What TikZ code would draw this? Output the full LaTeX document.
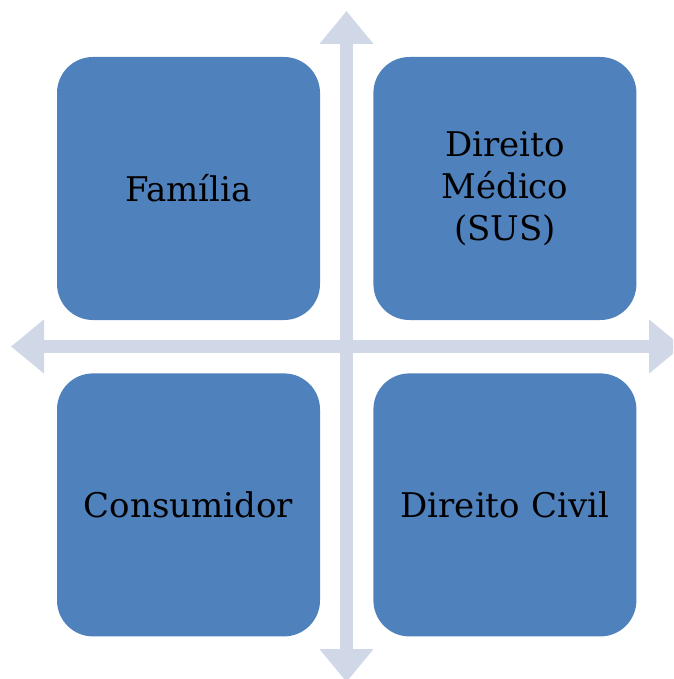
\documentclass[tikz,border=0pt]{standalone}
\usepackage{fontspec}
\setmainfont{DejaVu Serif}
\usepackage{tikz}
\usetikzlibrary{positioning,arrows.meta}
\definecolor{boxblue}{HTML}{4F81BD}
\definecolor{axisgray}{HTML}{D0D8E8}

\begin{document}
\begin{tikzpicture}[x=1pt, y=-1pt, node distance=53pt,
     quad/.style={fill=boxblue, rounded corners=36pt, minimum size=263pt, inner sep=0pt, text width=240pt, align=center, font=\fontsize{34}{42}\selectfont},
     axis/.style={axisgray, line width=13pt, {Triangle[width=52pt,length=33pt]}-{Triangle[width=52pt,length=33pt]}}]

   \clip (0,0) rectangle (673,679);

   % the cross behind the boxes
   \coordinate (top) at (346.5,11); \coordinate (bottom) at (346.5,682);
   \coordinate (left) at (11,346.5); \coordinate (right) at (682,346.5);
   \draw[axis] (top) -- (bottom);
   \draw[axis] (left) -- (right);

   \node[quad] (familia) at (188.5,188.5) {Família};
   \node[quad, right=of familia] (medico) {Direito\\Médico\\(SUS)};
   \node[quad, below=of familia] (consumidor) {Consumidor};
   \node[quad, right=of consumidor] (civil) {Direito Civil};
\end{tikzpicture}
\end{document}
